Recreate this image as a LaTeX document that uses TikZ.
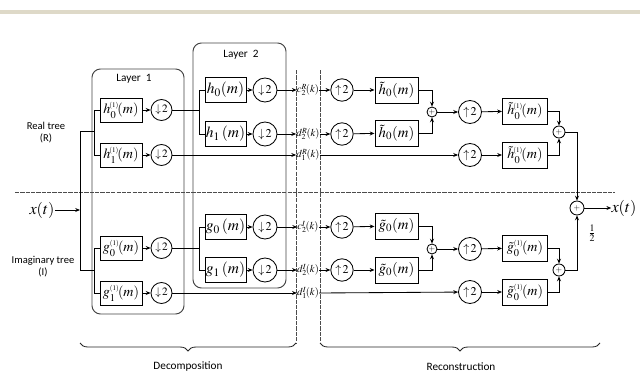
\documentclass[tikz,border=0pt]{standalone}
\usepackage{mathptmx}
\usepackage[no-math]{fontspec}
\newfontfamily\lab{Carlito}
\usetikzlibrary{arrows.meta,decorations.pathreplacing}
\definecolor{band}{RGB}{222,217,200}
\definecolor{lay}{RGB}{70,70,70}
\newcommand{\one}{\mbox{\fontsize{5}{5}\selectfont$(1)$}}
\begin{document}
\begin{tikzpicture}[x=0.025cm,y=-0.025cm,
  >={Stealth[length=3.4pt,width=2.8pt]},
  ln/.style={line width=0.6pt},
  boxa/.style={draw,line width=0.7pt,minimum width=1.05cm,minimum height=0.6cm,inner sep=0pt,font=\fontsize{10}{11}\selectfont},
  boxb/.style={draw,line width=0.7pt,minimum width=1.025cm,minimum height=0.625cm,inner sep=0pt,font=\fontsize{11}{12}\selectfont},
  boxc/.style={draw,line width=0.7pt,minimum width=1.075cm,minimum height=0.65cm,inner sep=0pt,font=\fontsize{10.5}{11}\selectfont},
  boxd/.style={draw,line width=0.7pt,minimum width=1.125cm,minimum height=0.65cm,inner sep=0pt,font=\fontsize{10}{11}\selectfont},
  cira/.style={draw,circle,line width=0.6pt,minimum size=0.525cm,inner sep=0pt,font=\fontsize{8}{9}\selectfont},
  cirb/.style={draw,circle,line width=0.6pt,minimum size=0.6cm,inner sep=0pt,font=\fontsize{8.5}{9}\selectfont},
  circ/.style={draw,circle,line width=0.6pt,minimum size=0.56cm,inner sep=0pt,font=\fontsize{8.5}{9}\selectfont},
  plus/.style={draw,circle,line width=0.6pt,minimum size=#1,inner sep=0pt,font=\fontsize{6}{6}\selectfont},
  coef/.style={inner sep=0pt,font=\fontsize{7.5}{8}\selectfont},
  txt/.style={font=\lab\fontsize{7.5}{8.5}\selectfont,align=center,inner sep=0pt},
  sep/.style={line width=0.6pt,gray!60!black,dash pattern=on 3pt off 0.8pt},
  layer/.style={line width=0.7pt,lay,rounded corners=6pt}
]
\useasboundingbox (0,0) rectangle (640,375);
\fill[white] (0,0) rectangle (640,375);
\fill[band] (0,10) rectangle (640,14);

% layer frames
\draw[layer] (92,69) rectangle (184,314);
\node[txt,font=\lab\fontsize{8}{9}\selectfont] (L1) at (134,79) {Layer\ \ 1};
\draw[layer] (193,43) rectangle (286,288);
\node[txt,font=\lab\fontsize{8}{9}\selectfont] (L2) at (241,55) {Layer\ \ 2};

% separators
\draw[sep] (15,192) -- (615,192);
\draw[sep] (296,70) -- (296,343);
\draw[sep] (320,70) -- (320,343);

% side labels
\node[txt] (rt) at (46,133) {Real tree\\(R)};
\node[txt] (it) at (43,267) {Imaginary tree\\(I)};
\node[inner sep=0pt,font=\fontsize{11.5}{12}\selectfont] (xin) at (42,210) {$x(t)$};
\coordinate (tj) at (80,210);
\coordinate (rtop) at (80,131);
\coordinate (itop) at (80,270);
\coordinate (rb) at (95,131);
\coordinate (ib) at (95,270);

% layer 1
\node[boxa] (h0a) at (121,110) {$h_0^{\!\one}\!(m)$};
\node[cira] (d0a) at (161.5,110) {$\downarrow\!2$};
\node[boxa] (h1a) at (121,155) {$h_1^{\!\one}\!(m)$};
\node[cira] (d1a) at (161.5,155) {$\downarrow\!2$};
\node[boxa] (g0a) at (121,248) {$g_0^{\one}\!(m)$};
\node[cira] (e0a) at (161.5,248) {$\downarrow\!2$};
\node[boxa] (g1a) at (121,293) {$g_1^{\one}\!(m)$};
\node[cira] (e1a) at (161.5,293) {$\downarrow\!2$};

% layer 2
\node[boxb] (h0b) at (225.5,90) {$h_0(m)$};
\node[cirb] (d0b) at (265,90) {$\downarrow\!2$};
\node[boxb] (h1b) at (225.5,134) {$h_1\,(m)$};
\node[cirb] (d1b) at (265,134) {$\downarrow\!2$};
\node[boxb] (g0b) at (225.5,227) {$g_0\,(m)$};
\node[cirb] (e0b) at (265,227) {$\downarrow\!2$};
\node[boxb] (g1b) at (225.5,270) {$g_1\,(m)$};
\node[cirb] (e1b) at (265,270) {$\downarrow\!2$};
\coordinate (j2r) at (200,110);
\coordinate (j2i) at (200,248);

% coefficients
\node[coef] (c2R) at (308,90) {$c_2^{R}\!(k)$};
\node[coef] (d2R) at (308,134) {$d_2^{R}\!(k)$};
\node[coef] (d1R) at (308,155) {$d_1^{R}\!(k)$};
\node[coef] (c2I) at (308,227) {$c_2^{I}\!(k)$};
\node[coef] (d2I) at (308,270) {$d_2^{I}\!(k)$};
\node[coef] (d1I) at (308,293) {$d_1^{I}\!(k)$};

% reconstruction stage 1
\node[circ] (u0) at (342,90) {$\uparrow\!2$};
\node[boxc] (t0) at (396.5,90) {$\tilde{h}_0(m)$};
\node[circ] (u1) at (342,134) {$\uparrow\!2$};
\node[boxc] (t1) at (396.5,133) {$\tilde{h}_0(m)$};
\node[plus=0.25cm] (p0) at (432,112) {$+$};
\node[circ] (v0) at (342,227) {$\uparrow\!2$};
\node[boxc] (s0) at (396.5,226) {$\tilde{g}_0(m)$};
\node[circ] (v1) at (342,270) {$\uparrow\!2$};
\node[boxc] (s1) at (396.5,270) {$\tilde{g}_0(m)$};
\node[plus=0.25cm] (pI) at (432,249) {$+$};

% reconstruction stage 2
\node[circ,minimum size=0.575cm] (w0) at (470,112) {$\uparrow\!2$};
\node[circ,minimum size=0.575cm] (w1) at (470,155) {$\uparrow\!2$};
\node[circ,minimum size=0.575cm] (y0) at (470,249) {$\uparrow\!2$};
\node[circ,minimum size=0.575cm] (y1) at (470,292) {$\uparrow\!2$};
\node[boxd] (T0) at (525,111) {$\tilde{h}_0^{\!\one}\!(m)$};
\node[boxd] (T1) at (525,155) {$\tilde{h}_0^{\!\one}\!(m)$};
\node[boxd] (S0) at (525,248) {$\tilde{g}_0^{\one}\!(m)$};
\node[boxd] (S1) at (525,292) {$\tilde{g}_0^{\one}\!(m)$};
\node[plus=0.3cm] (q0) at (559,132) {$+$};
\node[plus=0.3cm] (qI) at (559,270) {$+$};
\node[plus=0.35cm] (fin) at (577,208) {$+$};
\node[inner sep=0pt,font=\fontsize{11.5}{12}\selectfont] (xout) at (624,208) {$x(t)$};
\node[inner sep=0pt,font=\fontsize{9.5}{10}\selectfont] (half) at (592,233) {$\frac{1}{2}$};

% input connectors
\draw[ln,->] (xin) -- (tj);
\draw[ln] (rtop) -- (itop);
\draw[ln] (rtop) -- (rb);
\draw[ln] (itop) -- (ib);
\draw[ln] (h0a.west) -- ++(-5,0) |- (h1a.west);
\draw[ln] (g0a.west) -- ++(-5,0) |- (g1a.west);
\draw[ln,->] (h0a) -- (d0a);
\draw[ln,->] (h1a) -- (d1a);
\draw[ln,->] (g0a) -- (e0a);
\draw[ln,->] (g1a) -- (e1a);

% layer 1 -> layer 2
\draw[ln] (d0a) -- (j2r);
\draw[ln] (e0a) -- (j2i);
\draw[ln] (h0b.west) -- ++(-5,0) |- (h1b.west);
\draw[ln] (g0b.west) -- ++(-5,0) |- (g1b.west);
\draw[ln,->] (h0b) -- (d0b);
\draw[ln,->] (h1b) -- (d1b);
\draw[ln,->] (g0b) -- (e0b);
\draw[ln,->] (g1b) -- (e1b);

% to coefficients
\draw[ln,->] (d0b) -- (c2R.west);
\draw[ln,->] (d1b) -- (d2R.west);
\draw[ln,->] (d1a) -- (d1R.west);
\draw[ln,->] (e0b) -- (c2I.west);
\draw[ln,->] (e1b) -- (d2I.west);
\draw[ln,->] (e1a) -- (d1I.west);

% from coefficients
\draw[ln,->] (c2R.east) -- (u0);
\draw[ln,->] (d2R.east) -- (u1);
\draw[ln,->] (d1R.east) -- (w1);
\draw[ln,->] (c2I.east) -- (v0);
\draw[ln,->] (d2I.east) -- (v1);
\draw[ln,->] (d1I.east) -- (y1);

% reconstruction connectors
\draw[ln,->] (u0) -- (t0);
\draw[ln,->] (u1) -- (t1);
\draw[ln,->] (v0) -- (s0);
\draw[ln,->] (v1) -- (s1);
\draw[ln,->] (t0.east) -| (p0);
\draw[ln,->] (t1.east) -| (p0);
\draw[ln,->] (s0.east) -| (pI);
\draw[ln,->] (s1.east) -| (pI);
\draw[ln,->] (p0) -- (w0);
\draw[ln,->] (pI) -- (y0);
\draw[ln,->] (w0) -- (T0);
\draw[ln,->] (w1) -- (T1);
\draw[ln,->] (y0) -- (S0);
\draw[ln,->] (y1) -- (S1);
\draw[ln,->] (T0.east) -| (q0);
\draw[ln,->] (T1.east) -| (q0);
\draw[ln,->] (S0.east) -| (qI);
\draw[ln,->] (S1.east) -| (qI);
\draw[ln,->] (q0.east) -| (fin);
\draw[ln,->] (qI.east) -| (fin);
\draw[ln,->] (fin) -- (xout.west);

% braces
\draw[ln,gray!30!black,decorate,decoration={brace,mirror,amplitude=0.2cm}] (80,343) -- (296,343);
\draw[ln,gray!30!black,decorate,decoration={brace,mirror,amplitude=0.2cm}] (320,343) -- (600,343);
\node[txt,font=\lab\fontsize{8}{9}\selectfont] (dec) at (188,367) {Decomposition};
\node[txt,font=\lab\fontsize{8}{9}\selectfont] (rec) at (461,367) {Reconstruction};
\end{tikzpicture}
\end{document}
